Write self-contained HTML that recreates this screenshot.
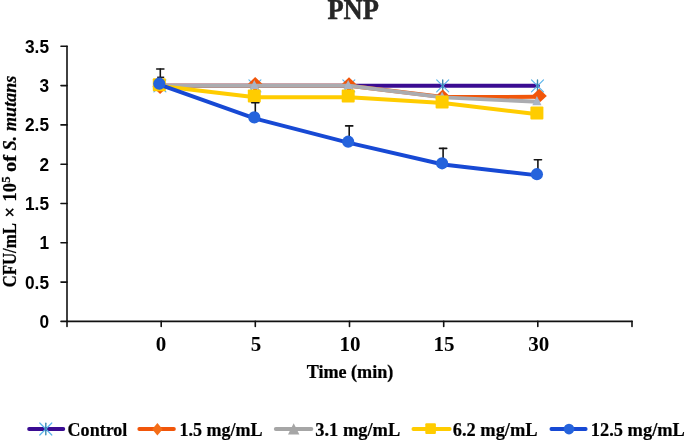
<!DOCTYPE html>
<html><head><meta charset="utf-8"><style>
html,body{margin:0;padding:0;background:#fff;}
body{width:685px;height:441px;overflow:hidden;font-family:"Liberation Serif",serif;}
svg{display:block;filter:blur(0.45px);}
</style></head><body>
<svg width="685" height="441" viewBox="0 0 685 441">
<rect width="685" height="441" fill="#fff"/>
<g stroke="#111" stroke-width="1.6" fill="none" stroke-linecap="round">
<line x1="67" y1="46.3" x2="67" y2="326.5"/>
<line x1="67" y1="321.4" x2="632" y2="321.4"/>
<line x1="61" y1="46.3" x2="67" y2="46.3"/>
<line x1="61" y1="85.6" x2="67" y2="85.6"/>
<line x1="61" y1="124.9" x2="67" y2="124.9"/>
<line x1="61" y1="164.2" x2="67" y2="164.2"/>
<line x1="61" y1="203.5" x2="67" y2="203.5"/>
<line x1="61" y1="242.8" x2="67" y2="242.8"/>
<line x1="61" y1="282.1" x2="67" y2="282.1"/>
<line x1="61" y1="321.4" x2="67" y2="321.4"/>
<line x1="161.2" y1="321.4" x2="161.2" y2="326.5"/>
<line x1="255.3" y1="321.4" x2="255.3" y2="326.5"/>
<line x1="349.5" y1="321.4" x2="349.5" y2="326.5"/>
<line x1="443.7" y1="321.4" x2="443.7" y2="326.5"/>
<line x1="537.8" y1="321.4" x2="537.8" y2="326.5"/>
<line x1="632.0" y1="321.4" x2="632.0" y2="326.5"/>
</g>
<g font-family="Liberation Sans" font-weight="bold" font-size="18.1" text-anchor="end" fill="#000">
<text transform="translate(49 52.8) scale(0.955 1)">3.5</text>
<text transform="translate(49 92.1) scale(0.955 1)">3</text>
<text transform="translate(49 131.4) scale(0.955 1)">2.5</text>
<text transform="translate(49 170.7) scale(0.955 1)">2</text>
<text transform="translate(49 210.0) scale(0.955 1)">1.5</text>
<text transform="translate(49 249.3) scale(0.955 1)">1</text>
<text transform="translate(49 288.6) scale(0.955 1)">0.5</text>
<text transform="translate(49 327.9) scale(0.955 1)">0</text>
</g>
<g font-family="Liberation Serif" font-weight="bold" font-size="21" text-anchor="middle" fill="#000">
<text x="161.1" y="351.0">0</text>
<text x="256.1" y="351.0">5</text>
<text x="350.0" y="351.0">10</text>
<text x="443.9" y="351.0">15</text>
<text x="538.7" y="351.0">30</text>
</g>
<text transform="translate(350.0 378.4) scale(0.98 1)" font-family="Liberation Serif" font-weight="bold" font-size="18.5" text-anchor="middle" fill="#000" stroke="#000" stroke-width="0.25">Time (min)</text>
<text transform="translate(16.2 287.3) rotate(-90) scale(0.915 1)" font-family="Liberation Serif" font-weight="bold" font-size="18.3" fill="#000" stroke="#000" stroke-width="0.25">CFU/mL</text>
<text transform="translate(16.2 217.4) rotate(-90) scale(1.0 1)" font-family="Liberation Serif" font-weight="bold" font-size="18.3" fill="#000" stroke="#000" stroke-width="0.25">×</text>
<text transform="translate(16.2 201.4) rotate(-90) scale(1.0 1)" font-family="Liberation Serif" font-weight="bold" font-size="18.3" fill="#000" stroke="#000" stroke-width="0.25">10</text>
<text transform="translate(9.6 182.8) rotate(-90) scale(1.0 1)" font-family="Liberation Serif" font-weight="bold" font-size="12.5" fill="#000" stroke="#000" stroke-width="0.25">5</text>
<text transform="translate(16.2 171.9) rotate(-90) scale(1.12 1)" font-family="Liberation Serif" font-weight="bold" font-size="18.3" fill="#000" stroke="#000" stroke-width="0.25">of</text>
<text transform="translate(16.2 150.6) rotate(-90) scale(1.0 1)" font-family="Liberation Serif" font-weight="bold" font-size="18.3" font-style="italic" fill="#000" stroke="#000" stroke-width="0.25">S.</text>
<text transform="translate(16.2 130.9) rotate(-90) scale(0.985 1)" font-family="Liberation Serif" font-weight="bold" font-size="18.3" font-style="italic" fill="#000" stroke="#000" stroke-width="0.25">mutans</text>
<text transform="translate(353.2 18.9) scale(0.93 1)" font-family="Liberation Serif" font-weight="bold" font-size="28.5" text-anchor="middle" fill="#262626" stroke="#262626" stroke-width="0.5">PNP</text>
<polyline points="160.3,85.7 255.3,85.7 349.2,85.7 443.1,85.7 537.9,85.7" fill="none" stroke="#3a0c92" stroke-width="4" stroke-linejoin="round" stroke-linecap="round"/>
<g stroke-linecap="round"><line x1="153.9" y1="79.8" x2="165.9" y2="91.8" stroke="#5ab4ea" stroke-width="1.2"/><line x1="153.9" y1="91.8" x2="165.9" y2="79.8" stroke="#5ab4ea" stroke-width="1.2"/><line x1="159.9" y1="80.0" x2="159.9" y2="91.6" stroke="#3a8ab0" stroke-width="1.4"/></g>
<g stroke-linecap="round"><line x1="248.9" y1="79.8" x2="260.9" y2="91.8" stroke="#5ab4ea" stroke-width="1.2"/><line x1="248.9" y1="91.8" x2="260.9" y2="79.8" stroke="#5ab4ea" stroke-width="1.2"/><line x1="254.9" y1="80.0" x2="254.9" y2="91.6" stroke="#3a8ab0" stroke-width="1.4"/></g>
<g stroke-linecap="round"><line x1="342.8" y1="79.8" x2="354.8" y2="91.8" stroke="#5ab4ea" stroke-width="1.2"/><line x1="342.8" y1="91.8" x2="354.8" y2="79.8" stroke="#5ab4ea" stroke-width="1.2"/><line x1="348.8" y1="80.0" x2="348.8" y2="91.6" stroke="#3a8ab0" stroke-width="1.4"/></g>
<g stroke-linecap="round"><line x1="436.7" y1="79.8" x2="448.7" y2="91.8" stroke="#5ab4ea" stroke-width="1.2"/><line x1="436.7" y1="91.8" x2="448.7" y2="79.8" stroke="#5ab4ea" stroke-width="1.2"/><line x1="442.7" y1="80.0" x2="442.7" y2="91.6" stroke="#3a8ab0" stroke-width="1.4"/></g>
<g stroke-linecap="round"><line x1="531.5" y1="79.8" x2="543.5" y2="91.8" stroke="#5ab4ea" stroke-width="1.2"/><line x1="531.5" y1="91.8" x2="543.5" y2="79.8" stroke="#5ab4ea" stroke-width="1.2"/><line x1="537.5" y1="80.0" x2="537.5" y2="91.6" stroke="#3a8ab0" stroke-width="1.4"/></g>
<polyline points="160.3,85.7 255.3,85.7 349.2,85.7 443.1,97.1 537.9,96.8" fill="none" stroke="#f1560a" stroke-width="4" stroke-linejoin="round" stroke-linecap="round"/>
<path d="M160.1 79.5L167.7 86.7L160.1 93.9L152.5 86.7Z" fill="#f1560a"/>
<path d="M255.2 77.1L262.8 84.3L255.2 91.5L247.6 84.3Z" fill="#f1560a"/>
<path d="M349.0 77.3L356.6 84.5L349.0 91.7L341.4 84.5Z" fill="#f1560a"/>
<path d="M442.7 89.6L450.3 96.8L442.7 104.0L435.1 96.8Z" fill="#f1560a"/>
<path d="M539.2 88.7L546.8 95.9L539.2 103.1L531.6 95.9Z" fill="#f1560a"/>
<polyline points="160.3,85.7 255.3,85.7 349.2,85.7 443.1,97.4 537.9,101.8" fill="none" stroke="#abacb0" stroke-width="3.9" stroke-linejoin="round" stroke-linecap="round"/>
<path d="M159.3 79.9L163.9 89.1L154.7 89.1Z" fill="#a9b4c4"/>
<path d="M254.3 79.9L258.9 89.1L249.7 89.1Z" fill="#a9b4c4"/>
<path d="M348.2 79.9L352.8 89.1L343.6 89.1Z" fill="#a9b4c4"/>
<path d="M442.1 91.6L446.7 100.8L437.5 100.8Z" fill="#a9b4c4"/>
<path d="M536.9 96.0L541.5 105.2L532.3 105.2Z" fill="#a9b4c4"/>
<polyline points="160.3,85.9 255.3,97.2 349.2,97.2 443.1,103.1 537.9,114.3" fill="none" stroke="#ffcc00" stroke-width="4" stroke-linejoin="round" stroke-linecap="round"/>
<rect x="152.8" y="78.2" width="13.0" height="13.0" rx="1" fill="#ffcc00"/>
<rect x="247.8" y="89.5" width="13.0" height="13.0" rx="1" fill="#ffcc00"/>
<rect x="341.7" y="89.5" width="13.0" height="13.0" rx="1" fill="#ffcc00"/>
<rect x="435.6" y="95.4" width="13.0" height="13.0" rx="1" fill="#ffcc00"/>
<rect x="530.4" y="106.6" width="13.0" height="13.0" rx="1" fill="#ffcc00"/>
<g stroke="#151515" stroke-width="1.6" stroke-linecap="round"><line x1="160.3" y1="83.7" x2="160.3" y2="69.0"/><line x1="156.7" y1="69.0" x2="163.9" y2="69.0"/></g>
<g stroke="#151515" stroke-width="1.6" stroke-linecap="round"><line x1="255.3" y1="117.4" x2="255.3" y2="102.7"/><line x1="251.7" y1="102.7" x2="258.9" y2="102.7"/></g>
<g stroke="#151515" stroke-width="1.6" stroke-linecap="round"><line x1="349.2" y1="141.7" x2="349.2" y2="125.9"/><line x1="345.6" y1="125.9" x2="352.8" y2="125.9"/></g>
<g stroke="#151515" stroke-width="1.6" stroke-linecap="round"><line x1="443.1" y1="163.3" x2="443.1" y2="148.4"/><line x1="439.5" y1="148.4" x2="446.7" y2="148.4"/></g>
<g stroke="#151515" stroke-width="1.6" stroke-linecap="round"><line x1="537.9" y1="174.2" x2="537.9" y2="159.8"/><line x1="534.3" y1="159.8" x2="541.5" y2="159.8"/></g>
<polyline points="160.3,84.9 255.3,118.6 349.2,142.9 443.1,164.5 537.9,175.4" fill="none" stroke="#1749d4" stroke-width="3.9" stroke-linejoin="round" stroke-linecap="round"/>
<line x1="157.2" y1="77.3" x2="164.2" y2="77.3" stroke="#1a1a2a" stroke-width="1.5"/>
<circle cx="159.3" cy="83.7" r="6.1" fill="#2563dc"/>
<circle cx="254.3" cy="117.4" r="6.1" fill="#2563dc"/>
<circle cx="348.2" cy="141.7" r="6.1" fill="#2563dc"/>
<circle cx="442.1" cy="163.3" r="6.1" fill="#2563dc"/>
<circle cx="536.9" cy="174.2" r="6.1" fill="#2563dc"/>
<line x1="29.1" y1="429.0" x2="63.3" y2="429.0" stroke="#3a0c92" stroke-width="3.8" stroke-linecap="round"/>
<g stroke-linecap="round"><line x1="39.8" y1="423.0" x2="51.8" y2="435.0" stroke="#5ab4ea" stroke-width="1.2"/><line x1="39.8" y1="435.0" x2="51.8" y2="423.0" stroke="#5ab4ea" stroke-width="1.2"/><line x1="45.8" y1="423.2" x2="45.8" y2="434.8" stroke="#3a8ab0" stroke-width="1.4"/></g>
<line x1="139.3" y1="429.0" x2="173.9" y2="429.0" stroke="#f1560a" stroke-width="3.8" stroke-linecap="round"/>
<path d="M157.4 422.9L162.6 429.2L157.4 435.5L152.2 429.2Z" fill="#f46d18"/>
<line x1="275.8" y1="429.0" x2="311.4" y2="429.0" stroke="#a6a6a6" stroke-width="3.8" stroke-linecap="round"/>
<path d="M293.7 423.2L299.4 434.6L288 434.6Z" fill="#a6a6a6"/>
<line x1="413.4" y1="429.0" x2="449.7" y2="429.0" stroke="#ffcc00" stroke-width="3.8" stroke-linecap="round"/>
<rect x="425.3" y="423.3" width="10.6" height="10.6" rx="1" fill="#ffcc00"/>
<line x1="551.4" y1="429.0" x2="585.7" y2="429.0" stroke="#1749d4" stroke-width="3.8" stroke-linecap="round"/>
<circle cx="569.0" cy="429.1" r="5.3" fill="#2563dc"/>
<g font-family="Liberation Serif" font-weight="bold" font-size="18.6" fill="#000" stroke="#000" stroke-width="0.2">
<text transform="translate(67.6 435.8) scale(0.97 1)">Control</text>
<text transform="translate(179.4 435.8) scale(0.97 1)">1.5 mg/mL</text>
<text transform="translate(315.3 435.8) scale(0.99 1)">3.1 mg/mL</text>
<text transform="translate(452.7 435.8) scale(0.99 1)">6.2 mg/mL</text>
<text transform="translate(590.8 435.8) scale(0.99 1)">12.5 mg/mL</text>
</g>
</svg>
</body></html>
